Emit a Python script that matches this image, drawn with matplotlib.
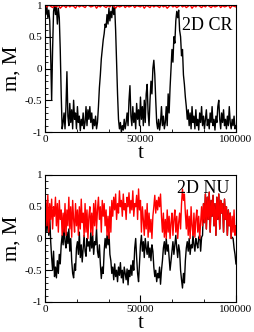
import numpy as np
import matplotlib
matplotlib.use("Agg")
import matplotlib.pyplot as plt
from matplotlib.ticker import FixedLocator

plt.rcParams['font.family'] = ['Liberation Serif', 'DejaVu Serif']

# 2D CR: magnetisation m (black) and M (red), sampled every 500 steps
m_cr = [0.95, 0.85, 0.98, 0.8, 0.92, 0.75,
        0.2, -0.5, 0.3,
        0.9, 1.0, 0.85, 0.97, 0.7, 0.95, 0.8,
        0.3, -0.4, -0.95,
        -0.85, -0.7, -0.95, -0.6, -0.05, -0.75, -0.9, -0.55, -0.85, -0.65,
        -0.95, -0.5, -0.8, -0.7, -0.95, -0.6, -0.85, -0.75, -0.98, -0.8,
        -0.9, -0.7, -0.95, -0.85, -0.6, -0.9, -0.65, -0.8, -0.6, -0.85,
        -0.7, -0.95, -0.8, -0.9, -0.75, -0.95, -0.85,
        -0.6, -0.3, -0.1, 0.15, 0.3, 0.45, 0.55, 0.7, 0.65, 0.85, 0.7, 0.95,
        0.75, 0.9, 0.8, 1.0, 0.85, 0.97,
        0.6, 0.1, -0.4, -0.8, -0.95,
        -0.85, -1.0, -0.9, -0.97, -0.8, -0.95, -0.85, -0.7, -0.9, -0.5,
        -0.27, -0.75, -0.9, -0.6, -0.85, -0.7, -0.95, -0.55, -0.8, -0.65,
        -0.9, -0.45, -0.8, -0.6, -0.9, -0.5, -0.85, -0.4, -0.25, -0.7,
        -0.9, -0.5, -0.2, -0.4, 0.0, 0.13, -0.1, -0.5, -0.85, -0.95,
        -0.8, -0.97, -0.85, -0.6, -0.9, -0.75, -0.95, -0.85, -0.6, -0.9,
        -0.4, -0.7, -0.3, 0.0, 0.3, 0.1, 0.5, 0.4, 0.75, 0.9,
        0.8, 0.92, 0.6, 0.5, 0.2, 0.3, -0.1, -0.25, -0.45, -0.6,
        -0.8, -0.65, -0.9, -0.7, -0.95,
        -0.6, -0.85, -0.75, -0.95, -0.65, -0.9, -0.8, -0.97, -0.7, -0.85,
        -0.6, -0.9, -0.75, -0.95, -0.8, -0.65, -0.9, -0.8, -0.95, -0.7,
        -0.85, -0.6, -0.9, -0.8, -0.97, -0.75, -0.85, -0.6, -0.5, -0.8,
        -0.95, -0.7, -0.85, -0.65, -0.9, -0.8, -0.95, -0.75, -0.9, -0.6,
        -0.85, -0.95, -0.8, -0.9, -0.75, -0.95, -0.9]

M_cr = [0.99, 0.97, 1.0, 0.98, 0.96, 0.99, 0.97, 1.0, 0.95, 0.98,
        0.99, 0.96, 1.0, 0.97, 0.99, 0.98, 0.95, 1.0, 0.97, 0.99,
        0.98, 0.96, 1.0, 0.99, 0.97, 0.98, 1.0, 0.95, 0.99, 0.97,
        1.0, 0.98, 0.96, 0.99, 0.97, 1.0, 0.98, 0.95, 0.99, 0.97,
        0.98, 1.0, 0.96, 0.99, 0.97, 0.98, 1.0, 0.96, 0.99, 0.98,
        0.97, 1.0, 0.95, 0.99, 0.98, 0.96, 1.0, 0.97, 0.99, 0.98,
        0.96, 1.0, 0.97, 0.99, 0.95, 0.98, 1.0, 0.97, 0.99, 0.96,
        0.98, 1.0, 0.97, 0.99, 0.96, 0.98, 1.0, 0.95, 0.99, 0.97,
        1.0, 0.98, 0.96, 0.99, 0.97, 1.0, 0.98, 0.96, 0.99, 0.97,
        0.98, 1.0, 0.96, 0.99, 0.97, 0.98, 1.0, 0.95, 0.99, 0.98, 0.97]

# 2D NU
m_nu = [0.3, 0.55, 0.1, 0.45, 0.05, 0.35, -0.05,
        -0.3, -0.5, -0.2, -0.6, -0.45, -0.62, -0.35, -0.55, -0.25, -0.4, -0.1,
        0.05, -0.1, 0.2, -0.05, -0.15, 0.1, -0.08, 0.15, -0.2, 0.0,
        -0.35, -0.55, -0.62, -0.4, -0.5, -0.15,
        -0.05, -0.25, 0.1, -0.3, -0.1, -0.37, -0.15, 0.05, -0.2, -0.28, 0.0, -0.12,
        -0.05, -0.2, 0.1, -0.15, 0.05, -0.25, -0.05, -0.1, 0.15, -0.2, -0.3, -0.1,
        -0.4, -0.63, -0.45, -0.55, -0.2, 0.0, -0.15,
        0.05, -0.1, 0.1, -0.25,
        -0.35, -0.55, -0.45, -0.65, -0.4, -0.6, -0.5, -0.68, -0.45, -0.58,
        -0.38, -0.62, -0.5, -0.7, -0.45, -0.55, -0.65, -0.48, -0.73, -0.5,
        -0.6, -0.42, -0.58, -0.35, -0.5,
        -0.15, 0.0, -0.3,
        -0.55, -0.68, -0.4,
        -0.1, 0.05, -0.2, -0.05, -0.3, 0.0, -0.15, -0.25, -0.05,
        -0.3, -0.15, -0.35, -0.1, -0.2,
        -0.45, -0.6, -0.5, -0.68, -0.55, -0.62, -0.45, -0.72, -0.5, -0.35,
        -0.15, -0.05, -0.25, 0.0, -0.2, -0.1, -0.3, -0.5,
        -0.35, -0.2, -0.05, -0.25, -0.1, 0.05, -0.15, -0.3, -0.1, -0.2,
        -0.5, -0.65, -0.78, -0.55, -0.7, -0.35,
        -0.15, -0.05, -0.2, 0.0, -0.25, -0.1, -0.15, 0.05, -0.1, -0.2,
        0.0, -0.08, -0.15, 0.02, 0.05, -0.2, 0.02, 0.05,
        0.55, 0.25, 0.7, 0.15, 0.65, 0.3, 0.73, 0.1, 0.6, 0.35,
        0.68, 0.2, 0.55, 0.05, 0.65, 0.3, 0.7, 0.15, 0.6, 0.4,
        0.55, 0.1, 0.62, 0.3, 0.5, 0.05, 0.45, 0.2, 0.4, 0.0,
        0.02, 0.0, -0.15, -0.25, -0.4]

M_nu = [0.05, 0.6, 0.2, 0.68, 0.1, 0.55, 0.3, 0.62, 0.15, 0.5,
        0.35, 0.65, 0.2, 0.55, 0.1, 0.6, 0.3, 0.45, 0.05,
        0.4, 0.1, 0.55, 0.05, 0.45, 0.2, 0.65, 0.15, 0.5, 0.02,
        0.6, 0.3, 0.1, 0.55, 0.2, 0.45, 0.05, 0.5, 0.15, 0.62,
        0.25, 0.4, 0.03, 0.55, 0.1, 0.45, 0.0, 0.35, 0.5, 0.1,
        0.4, 0.05, 0.55, 0.2, 0.6, 0.15, 0.45, 0.65, 0.3, 0.5,
        0.1, 0.6, 0.35, 0.55, 0.2, 0.45,
        0.05, 0.35, 0.0, 0.5, 0.1, 0.6,
        0.35, 0.65, 0.45, 0.7, 0.3, 0.55, 0.4, 0.75, 0.5, 0.6,
        0.35, 0.7, 0.45, 0.55, 0.3, 0.65, 0.5, 0.72, 0.4, 0.6,
        0.45, 0.75, 0.35, 0.55, 0.5, 0.68, 0.3, 0.78,
        0.45, 0.6, 0.1, 0.5, 0.3, 0.05, 0.45, 0.15, 0.55, 0.02,
        0.4, 0.1, 0.3, 0.0, 0.35,
        0.5, 0.68, 0.4, 0.6, 0.45, 0.65, 0.5, 0.7, 0.35,
        0.1, 0.4, 0.02, 0.3, 0.0, 0.45, 0.1, 0.35, 0.0, 0.25,
        0.4, 0.05, 0.3, 0.45, 0.1, 0.35, 0.0, 0.25, 0.4, 0.15,
        0.55, 0.78, 0.6, 0.7, 0.4,
        0.15, 0.45, 0.05, 0.35, 0.0, 0.5, 0.2, 0.05, 0.4, 0.02,
        0.3, 0.45, 0.1, 0.35, 0.0, 0.25, 0.5, 0.2,
        0.55, 0.25, 0.7, 0.15, 0.65, 0.3, 0.73, 0.1, 0.6, 0.35,
        0.68, 0.2, 0.55, 0.05, 0.65, 0.3, 0.7, 0.15, 0.6, 0.4,
        0.55, 0.1, 0.62,
        0.3, 0.5, 0.05, 0.45, 0.2, 0.4, 0.0, 0.35, 0.1, 0.45, 0.05, 0.2]

x_ticks = [0, 50000, 100000]
x_tick_labels = ['0', '50000', '100000']
y_ticks = [-1, -0.5, 0, 0.5, 1]
y_tick_labels = ['-1', '-0.5', '0', '0.5', '1']

panels = [("2D CR", m_cr, M_cr, 0.984, 0.905),
          ("2D NU", m_nu, M_nu, 0.966, 0.96)]

fig = plt.figure(figsize=(2.54, 3.32), dpi=100)
bottoms = [0.6024, 0.0904]

for (label, m, M, tx, ty), b in zip(panels, bottoms):
    ax = fig.add_axes([0.177, b, 0.752, 0.3825])
    t_m = np.linspace(0, 100000, len(m))
    t_M = np.linspace(0, 100000, len(M))
    ax.plot(t_m, m, color='black', lw=1.0)
    ax.plot(t_M, M, color='red', lw=1.0)
    ax.set_xlim(0, 100000)
    ax.set_ylim(-1, 1)
    ax.set_xticks(x_ticks)
    ax.set_xticklabels(x_tick_labels)
    ax.set_yticks(y_ticks)
    ax.set_yticklabels(y_tick_labels)
    ax.xaxis.set_minor_locator(FixedLocator(np.linspace(0, 100000, 7)))
    ax.yaxis.set_minor_locator(FixedLocator(np.linspace(-1, 1, 21)))
    ax.tick_params(which='both', direction='in', top=False, right=False,
                   labelsize=8, pad=2)
    ax.tick_params(which='major', length=5, width=0.8)
    ax.tick_params(which='minor', length=2.5, width=0.6)
    ax.set_xlabel('t', fontsize=15, labelpad=0)
    ax.set_ylabel('m, M', fontsize=15, labelpad=2)
    ax.text(tx, ty, label, transform=ax.transAxes, ha='right', va='top',
            fontsize=13)
    for s in ax.spines.values():
        s.set_linewidth(0.8)

fig.savefig('out.png', dpi=100)
